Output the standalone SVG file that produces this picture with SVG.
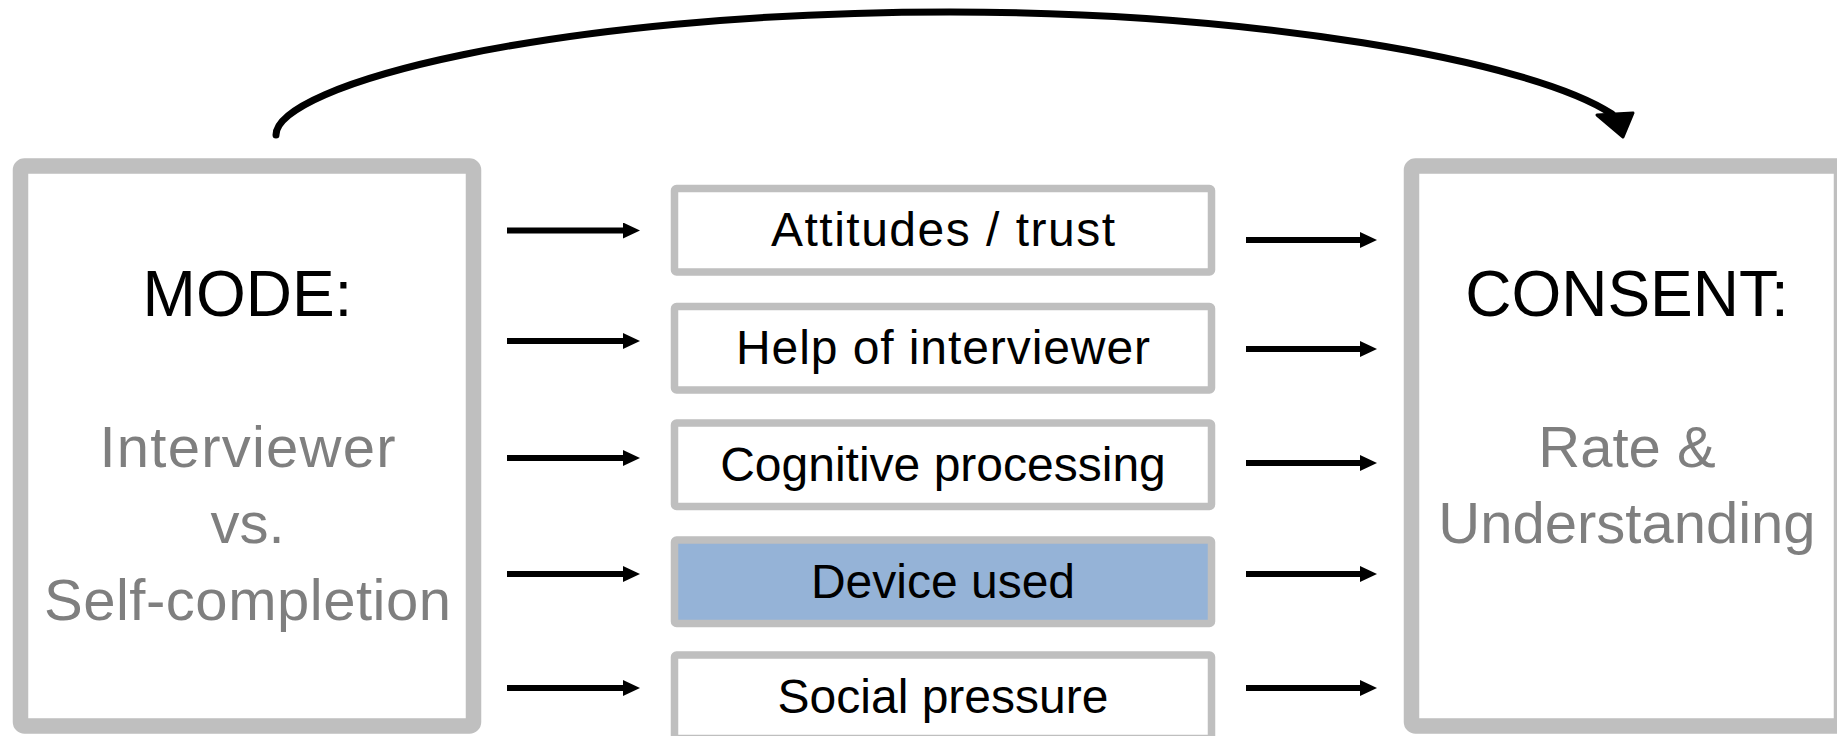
<svg xmlns="http://www.w3.org/2000/svg" width="1837" height="736" viewBox="0 0 1837 736">
  <style>
    .big { fill: none; stroke: #bfbfbf; stroke-width: 15.5; }
    .mid { fill: #ffffff; stroke: #bfbfbf; stroke-width: 7.5; }
    .mid-blue { fill: #95b3d7; stroke: #bfbfbf; stroke-width: 7.5; }
    .title { font-family: "Liberation Sans", Arial, sans-serif; font-size: 64px; fill: #000000; text-anchor: middle; }
    .sub { font-family: "Liberation Sans", Arial, sans-serif; font-size: 58px; fill: #7f7f7f; text-anchor: middle; }
    .lbl { font-family: "Liberation Sans", Arial, sans-serif; font-size: 48px; fill: #000000; text-anchor: middle; }
    .arr { stroke: #000000; stroke-width: 6; fill: none; marker-end: url(#head); }
  </style>
  <defs>
    <marker id="head" markerUnits="userSpaceOnUse" markerWidth="18" markerHeight="18" refX="0" refY="8" orient="auto">
      <path d="M0,0 L17,8 L0,16 Z" fill="#000000"/>
    </marker>
  </defs>
  <rect width="1837" height="736" fill="#ffffff"/>

  <g id="mode">
    <rect class="big" x="20.5" y="166" width="453" height="560" rx="4"/>
    <text class="title" x="247.5" y="316">MODE:</text>
    <text class="sub" x="247.5" y="467" textLength="296">Interviewer</text>
    <text class="sub" x="247.5" y="543">vs.</text>
    <text class="sub" x="247.5" y="620" textLength="407">Self-completion</text>
  </g>

  <g id="consent">
    <rect class="big" x="1411.5" y="166" width="430" height="560" rx="4"/>
    <text class="title" x="1627" y="316">CONSENT:</text>
    <text class="sub" x="1627" y="467">Rate &amp;</text>
    <text class="sub" x="1627" y="543">Understanding</text>
  </g>

  <g id="attitudes">
    <rect class="mid" x="674.5" y="188.5" width="537" height="83.5" rx="2"/>
    <text class="lbl" x="943" y="246" textLength="344">Attitudes / trust</text>
  </g>
  <g id="help">
    <rect class="mid" x="674.5" y="306.5" width="537" height="83.5" rx="2"/>
    <text class="lbl" x="943" y="364" textLength="414">Help of interviewer</text>
  </g>
  <g id="cognitive">
    <rect class="mid" x="674.5" y="423" width="537" height="83.5" rx="2"/>
    <text class="lbl" x="943" y="480.5">Cognitive processing</text>
  </g>
  <g id="device">
    <rect class="mid-blue" x="674.5" y="540" width="537" height="83.5" rx="2"/>
    <text class="lbl" x="943" y="597.5">Device used</text>
  </g>
  <g id="social">
    <rect class="mid" x="674.5" y="655" width="537" height="83.5" rx="2"/>
    <text class="lbl" x="943" y="712.5">Social pressure</text>
  </g>

  <g id="connectors">
    <line class="arr" x1="507" y1="230.5" x2="623" y2="230.5"/>
    <line class="arr" x1="507" y1="341" x2="623" y2="341"/>
    <line class="arr" x1="507" y1="458" x2="623" y2="458"/>
    <line class="arr" x1="507" y1="574" x2="623" y2="574"/>
    <line class="arr" x1="507" y1="688" x2="623" y2="688"/>

    <line class="arr" x1="1246" y1="240" x2="1360" y2="240"/>
    <line class="arr" x1="1246" y1="349" x2="1360" y2="349"/>
    <line class="arr" x1="1246" y1="463" x2="1360" y2="463"/>
    <line class="arr" x1="1246" y1="574" x2="1360" y2="574"/>
    <line class="arr" x1="1246" y1="688" x2="1360" y2="688"/>

    <path d="M276,135 C276,85 550,12 950,12 C1250,12 1530,60 1612,114" fill="none" stroke="#000000" stroke-width="7" stroke-linecap="round"/>
    <polygon points="1623,137 1597,115 1633,113" fill="#000000" stroke="#000000" stroke-width="3" stroke-linejoin="round"/>
  </g>
</svg>
